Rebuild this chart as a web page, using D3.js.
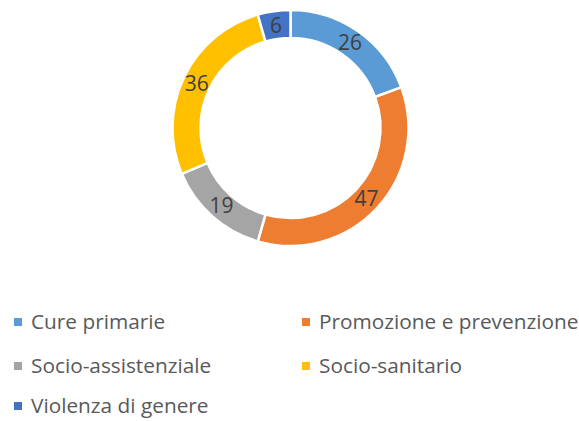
<!DOCTYPE html>
<html><head><meta charset="utf-8">
<script src="https://cdn.jsdelivr.net/npm/d3@7"></script>
<style>body{margin:0;background:#fff}svg{display:block}</style>
</head><body>
<svg id="c" width="579" height="421"></svg>
<script>
const categories = ["Cure primarie","Promozione e prevenzione","Socio-assistenziale","Socio-sanitario","Violenza di genere"];
const values = [26,47,19,36,6];
const colors = ["#5B9BD5","#ED7D31","#A5A5A5","#FFC000","#4472C4"];

const svg = d3.select("#c");
const cx = 290.5, cy = 128, rO = 118, rI = 90;
const pie = d3.pie().sort(null).value(d=>d)(values);
const arc = d3.arc().innerRadius(rI).outerRadius(rO);
const lab = d3.arc().innerRadius((rI+rO)/2).outerRadius((rI+rO)/2);
const g = svg.append("g").attr("transform",`translate(${cx},${cy})`);
g.selectAll("path").data(pie).join("path")
  .attr("d",arc).attr("fill",(d,i)=>colors[i])
  .attr("stroke","#fff").attr("stroke-width",2.5).attr("stroke-linejoin","miter");
g.selectAll("text").data(pie).join("text")
  .attr("transform",d=>`translate(${lab.centroid(d)})`)
  .attr("text-anchor","middle").attr("dy","0.36em")
  .attr("font-family","'Open Sans', sans-serif").attr("font-size",21)
  .attr("fill","#404040").text(d=>d.data);

const colX = [14, 302], rowY = [322, 366, 406];
const lg = svg.append("g");
categories.forEach((c,i)=>{
  const x = colX[i%2], y = rowY[Math.floor(i/2)];
  lg.append("rect").attr("x",x).attr("y",y-4).attr("width",8).attr("height",8).attr("fill",colors[i]);
  lg.append("text").attr("x",x+17).attr("y",y).attr("dy","0.35em")
    .attr("font-family","'Open Sans', sans-serif").attr("font-size",20.8)
    .attr("fill","#595959").text(c);
});
</script>
</body></html>
